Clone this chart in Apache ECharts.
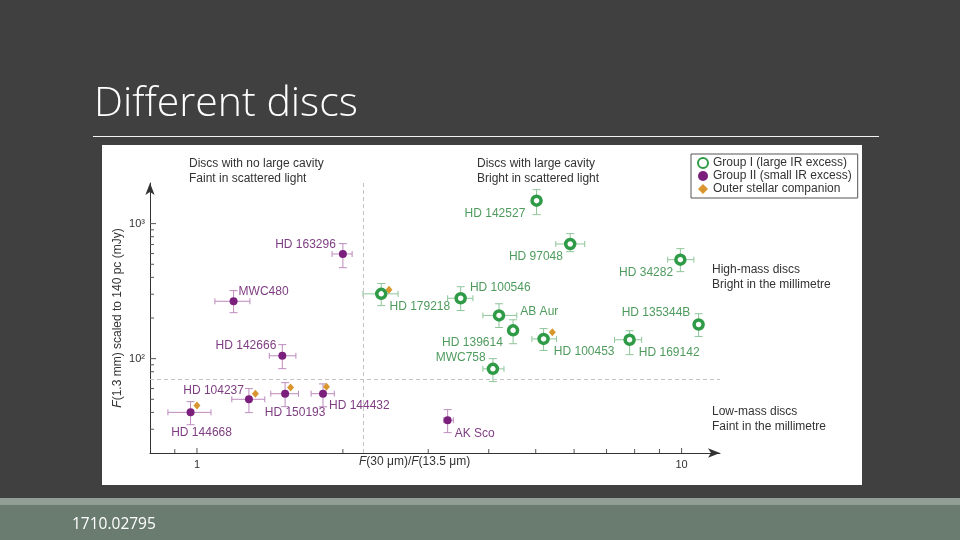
<!DOCTYPE html>
<html>
<head>
<meta charset="utf-8">
<script src="https://cdn.jsdelivr.net/npm/echarts@6/dist/echarts.min.js"></script>
<style>
html, body { margin: 0; padding: 0; background: #404040; }
#main { width: 960px; height: 540px; }
</style>
</head>
<body>
<div id="main"></div>
<script>
// Group I (large IR excess) - green rings
var g1Names = ['HD 142527', 'HD 97048', 'HD 34282', 'HD 179218', 'HD 100546', 'AB Aur', 'HD 139614', 'HD 100453', 'MWC758', 'HD 169142', 'HD 135344B'];
var g1X = [5.02, 5.89, 9.94, 2.40, 3.50, 4.20, 4.49, 5.19, 4.08, 7.81, 10.84];
var g1Y = [1480, 707, 541, 302, 280, 209, 162, 140, 84, 138, 179];
var g1XErr = [[4.95, 5.1], [5.5, 6.31], [9.36, 10.6], [2.2, 2.6], [3.29, 3.71], [3.89, 4.57], [4.45, 4.55], [4.91, 5.52], [3.89, 4.3], [7.27, 8.27], [10.7, 11.0]];
var g1YErr = [[1166, 1786], [620, 843], [441, 653], [247, 360], [227, 341], [170, 255], [129, 194], [115, 167], [67.6, 100], [107, 161], [146, 215]];

// Group II (small IR excess) - purple dots
var g2Names = ['HD 163296', 'MWC480', 'HD 142666', 'HD 104237', 'HD 150193', 'HD 144432', 'HD 144668', 'AK Sco'];
var g2X = [2.0, 1.19, 1.50, 1.28, 1.52, 1.82, 0.97, 3.29];
var g2Y = [596, 266, 105, 50, 55, 55, 40, 35];
var g2XErr = [[1.9, 2.09], [1.089, 1.286], [1.41, 1.6], [1.18, 1.38], [1.42, 1.62], [1.72, 1.92], [0.871, 1.069], [3.23, 3.38]];
var g2YErr = [[472, 711], [219, 319], [84.3, 127], [39.8, 60], [44.1, 66.4], [44, 65], [32.4, 48], [28.3, 41.9]];

// outer stellar companions - orange diamonds
var compX = [2.49, 1.32, 1.56, 1.85, 1.0, 5.41];
var compY = [324, 55, 61, 62, 45, 157];

// boundaries (dashed lines)
var cavityX = 2.2;
var massY = 70;

// tick marks
var xTicks = [0.9, 1, 2, 3, 4, 5, 6, 7, 8, 9, 10];
var yTicks = [30, 40, 50, 60, 70, 80, 90, 100, 200, 300, 400, 500, 600, 700, 800, 900, 1000];
var xMin = 0.8, xMax = 12, yMin = 20, yMax = 2000;

// label placement for each star name
var labelPlace = {
  'HD 142527': ['left', 0, 13], 'HD 97048': ['left', 4, 13], 'HD 34282': ['left', 4, 13],
  'HD 179218': ['right', -3, 13], 'HD 100546': ['right', -2, -11], 'AB Aur': ['right', 10, -4],
  'HD 139614': ['left', 1, 12], 'HD 100453': ['right', -1, 13], 'MWC758': ['left', 4, -11],
  'HD 169142': ['right', -2, 13], 'HD 135344B': ['left', 3, -12],
  'HD 163296': ['left', 2, -9], 'MWC480': ['right', -4, -10], 'HD 142666': ['left', 3, -10],
  'HD 104237': ['left', 4, -9], 'HD 150193': ['bottom', 10, 4], 'HD 144432': ['right', -3, 12],
  'HD 144668': ['bottom', 11, 5], 'AK Sco': ['right', -2, 13]
};

var GREEN = '#2f9b47', PURPLE = '#7a1f7c', ORANGE = '#d9962e';
var font = 'Liberation Sans';

function points(names, xs, ys, color) {
  return names.map(function (n, i) {
    var p = labelPlace[n];
    return {
      name: n, value: [xs[i], ys[i]],
      label: { show: true, formatter: n, position: p[0], offset: [p[1], p[2]], color: color, fontSize: 12, fontFamily: font }
    };
  });
}
function errData(xs, ys, xe, ye) {
  return xs.map(function (x, i) { return [x, ys[i], xe[i][0], xe[i][1], ye[i][0], ye[i][1]]; });
}
function errorBars(color) {
  return function (params, api) {
    var x = api.value(0), y = api.value(1);
    var l = api.coord([api.value(2), y]), r = api.coord([api.value(3), y]);
    var b = api.coord([x, api.value(4)]), t = api.coord([x, api.value(5)]);
    var s = { stroke: color, lineWidth: 1 };
    var ln = function (x1, y1, x2, y2) { return { type: 'line', shape: { x1: x1, y1: y1, x2: x2, y2: y2 }, style: s }; };
    return { type: 'group', children: [
      ln(l[0], l[1], r[0], r[1]), ln(l[0], l[1] - 3, l[0], l[1] + 3), ln(r[0], r[1] - 3, r[0], r[1] + 3),
      ln(b[0], b[1], t[0], t[1]), ln(b[0] - 4, b[1], b[0] + 4, b[1]), ln(t[0] - 4, t[1], t[0] + 4, t[1])
    ] };
  };
}
function isPow10(v) { var l = Math.log10(v); return Math.abs(l - Math.round(l)) < 1e-6; }

var myChart = echarts.init(document.getElementById('main'));

myChart.setOption({
  backgroundColor: '#404040',
  animation: false,
  textStyle: { fontFamily: font },
  graphic: [
    { type: 'rect', z: -100, shape: { x: 102, y: 145, width: 760, height: 340 }, style: { fill: '#fff' } },
    { type: 'text', left: 94, top: 84, style: { text: 'Different discs', fill: '#fff', font: '300 41px "Open Sans"' } },
    { type: 'rect', shape: { x: 93, y: 136, width: 786, height: 1 }, style: { fill: '#f2f2f2' } },
    { type: 'rect', shape: { x: 0, y: 498, width: 960, height: 42 }, style: { fill: '#6a7c70' } },
    { type: 'rect', shape: { x: 0, y: 498, width: 960, height: 7 }, style: { fill: '#909e95' } },
    { type: 'text', left: 72, top: 517, style: { text: '1710.02795', fill: '#fff', font: '15.5px "Open Sans"' } },
    { type: 'text', left: 189, top: 156, style: { text: 'Discs with no large cavity\nFaint in scattered light', fill: '#333', font: '12px "Liberation Sans"', lineHeight: 15 } },
    { type: 'text', left: 477, top: 156, style: { text: 'Discs with large cavity\nBright in scattered light', fill: '#333', font: '12px "Liberation Sans"', lineHeight: 15 } },
    { type: 'text', left: 712, top: 262, style: { text: 'High-mass discs\nBright in the millimetre', fill: '#333', font: '12px "Liberation Sans"', lineHeight: 15 } },
    { type: 'text', left: 712, top: 404, style: { text: 'Low-mass discs\nFaint in the millimetre', fill: '#333', font: '12px "Liberation Sans"', lineHeight: 15 } },
    { type: 'text', left: 359, top: 456, style: { text: '{i|F}(30 μm)/{i|F}(13.5 μm)', fill: '#333', font: '12px "Liberation Sans"',
      rich: { i: { fontStyle: 'italic', fontSize: 12, fontFamily: font, fill: '#333' } } } },
    { type: 'text', x: 118, y: 318, rotation: Math.PI / 2, style: { text: '{i|F}(1.3 mm) scaled to 140 pc (mJy)', fill: '#333', font: '12px "Liberation Sans"', align: 'center', verticalAlign: 'middle',
      rich: { i: { fontStyle: 'italic', fontSize: 12, fontFamily: font, fill: '#333' } } } }
  ],
  legend: {
    orient: 'vertical', left: 691, top: 154,
    borderColor: '#555', borderWidth: 1, padding: [3, 6, 3, 6],
    itemGap: 1, itemWidth: 10, itemHeight: 10,
    textStyle: { fontSize: 12, color: '#333', fontFamily: font },
    data: ['Group I (large IR excess)', 'Group II (small IR excess)', 'Outer stellar companion']
  },
  grid: { left: 150, top: 183, width: 570, height: 270 },
  xAxis: {
    type: 'log', logBase: 10, min: xMin, max: xMax,
    axisLine: { lineStyle: { color: '#333', width: 1 }, symbol: ['none', 'arrow'], symbolSize: [7, 12] },
    axisTick: { show: false },
    splitLine: { show: false },
    axisLabel: { interval: 0, color: '#333', fontSize: 11, margin: 6, formatter: function (v) { return isPow10(v) ? String(Math.round(v)) : ''; } }
  },
  yAxis: {
    type: 'log', logBase: 10, min: yMin, max: yMax,
    axisLine: { lineStyle: { color: '#333', width: 1 }, symbol: ['none', 'arrow'], symbolSize: [7, 12] },
    axisTick: { show: false },
    splitLine: { show: false },
    axisLabel: { interval: 0, color: '#333', fontSize: 11, margin: 5, formatter: function (v) {
      if (!isPow10(v)) return '';
      return Math.round(Math.log10(v)) === 3 ? '10³' : '10²';
    } }
  },
  series: [
    { type: 'custom', name: 'xticks', silent: true, data: xTicks.map(function (v) { return [v, yMin]; }),
      renderItem: function (params, api) {
        var p = api.coord([api.value(0), api.value(1)]);
        var len = isPow10(api.value(0)) ? 5 : 4;
        return { type: 'line', shape: { x1: p[0], y1: p[1], x2: p[0], y2: p[1] - len }, style: { stroke: '#555', lineWidth: 1 } };
      } },
    { type: 'custom', name: 'yticks', silent: true, data: yTicks.map(function (v) { return [xMin, v]; }),
      renderItem: function (params, api) {
        var p = api.coord([api.value(0), api.value(1)]);
        var len = isPow10(api.value(1)) ? 6 : 4;
        return { type: 'line', shape: { x1: p[0], y1: p[1], x2: p[0] + len, y2: p[1] }, style: { stroke: '#555', lineWidth: 1 } };
      } },
    { type: 'custom', name: 'g1err', silent: true, z: 1, encode: { x: [0, 2, 3], y: [1, 4, 5] },
      data: errData(g1X, g1Y, g1XErr, g1YErr), renderItem: errorBars('#8fc59a') },
    { type: 'custom', name: 'g2err', silent: true, z: 1, encode: { x: [0, 2, 3], y: [1, 4, 5] },
      data: errData(g2X, g2Y, g2XErr, g2YErr), renderItem: errorBars('#bd8bbd') },
    { type: 'scatter', name: 'Outer stellar companion', z: 3, symbol: 'diamond', symbolSize: [7, 8],
      itemStyle: { color: ORANGE, opacity: 1 },
      data: compX.map(function (x, i) { return [x, compY[i]]; }) },
    { type: 'scatter', name: 'Group II (small IR excess)', z: 4, symbol: 'circle', symbolSize: 8,
      itemStyle: { color: PURPLE, opacity: 1 },
      data: points(g2Names, g2X, g2Y, '#7e3d82'),
      markLine: {
        silent: true, symbol: 'none', label: { show: false },
        lineStyle: { type: [4, 3], color: '#c4c4c4', width: 1 },
        data: [{ xAxis: cavityX }, { yAxis: massY }]
      } },
    { type: 'scatter', name: 'Group I (large IR excess)', z: 5, symbol: 'circle', symbolSize: 9,
      itemStyle: { color: '#fff', borderColor: GREEN, borderWidth: 3.5, opacity: 1 },
      data: points(g1Names, g1X, g1Y, '#4f9b5e') }
  ]
});
</script>
</body>
</html>
